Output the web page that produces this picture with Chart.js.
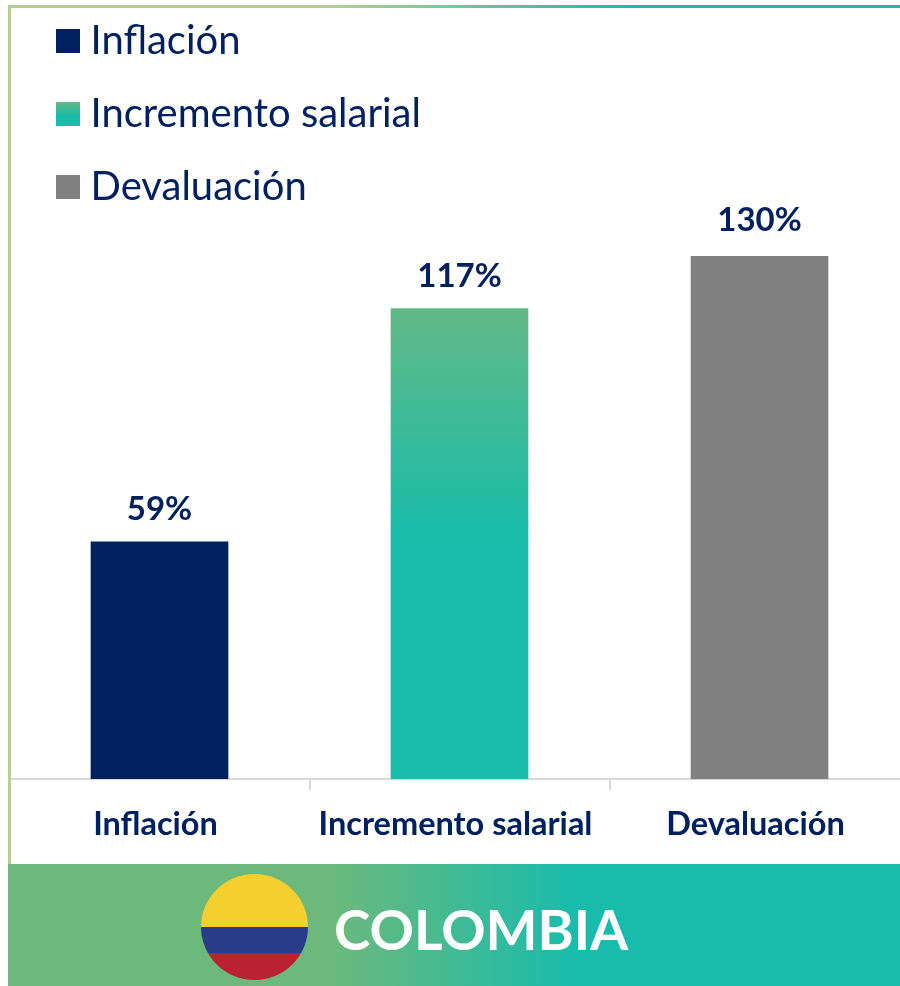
<!DOCTYPE html>
<html lang="es">
<head>
<meta charset="utf-8">
<title>Colombia</title>
<script src="https://cdn.jsdelivr.net/npm/chart.js@4"></script>
<style>
html,body{margin:0;padding:0;background:#fff;width:900px;height:986px;overflow:hidden}
#wrap{position:relative;width:900px;height:986px;overflow:hidden}
canvas{position:absolute;left:0;top:0}
#top{position:absolute;left:8px;top:5px;width:892px;height:3px;background:linear-gradient(90deg,#B8D08F 0,#B8D08F 35%,#17BCAD 70%,#17BCAD 100%)}
#left{position:absolute;left:8px;top:5px;width:3px;height:860px;background:#B8D08F}
#band{position:absolute;left:8px;top:864px;width:892px;height:122px;background:linear-gradient(90deg,#6DB97B 0,#6DB97B 36%,#17BCAD 64%,#17BCAD 100%)}
#flag{position:absolute;left:201px;top:874px;width:107px;height:106px;border-radius:50%;background:linear-gradient(180deg,#F5CF2D 0,#F5CF2D 50%,#2A3B8A 50%,#2A3B8A 75%,#BC2033 75%,#BC2033 100%)}
#name{position:absolute;left:334px;top:894px;font:bold 55px Lato,sans-serif;color:#fff;line-height:70px;white-space:nowrap}
</style>
</head>
<body>
<div id="wrap">
<canvas id="c" width="920" height="986"></canvas>
<div id="top"></div><div id="left"></div>
<div id="band"></div><div id="flag"></div><div id="name">COLOMBIA</div>
</div>
<script>
const categories = ["Inflación", "Incremento salarial", "Devaluación"];
const values = [59, 117, 130];
const navy = "#002060", teal = "#18BCAA", tealTop = "#62B987", grey = "#808080";

const canvas = document.getElementById("c");

function barColor(ctx) {
  const i = ctx.dataIndex;
  if (i === 0) return navy;
  if (i === 2) return grey;
  const y = ctx.chart.scales.y;
  if (!y || !ctx.chart.chartArea) return teal;
  const gr = ctx.chart.ctx.createLinearGradient(0, y.getPixelForValue(values[1]), 0, y.getPixelForValue(60));
  gr.addColorStop(0, tealTop); gr.addColorStop(1, teal);
  return gr;
}

function swatch(fill, isGradient) {
  const s = document.createElement("canvas");
  s.width = 24; s.height = 24;
  const c = s.getContext("2d");
  if (isGradient) {
    const gr = c.createLinearGradient(0, 0, 0, 24);
    gr.addColorStop(0, tealTop); gr.addColorStop(0.6, teal);
    c.fillStyle = gr;
  } else {
    c.fillStyle = fill;
  }
  c.fillRect(0, 0, 24, 24);
  return s;
}

const valueLabels = {
  id: "valueLabels",
  afterDatasetsDraw(chart) {
    const c = chart.ctx, m = chart.getDatasetMeta(0);
    c.save();
    c.font = "bold 33px Lato, sans-serif";
    c.fillStyle = navy; c.textAlign = "center"; c.textBaseline = "middle";
    m.data.forEach((el, i) => c.fillText(values[i] + "%", el.x, el.y - (i === 2 ? 36 : 32)));
    c.restore();
  }
};
const placeLegend = {
  id: "placeLegend",
  afterLayout(chart) {
    const l = chart.legend;
    l.left = 32.5; l.top = -12; l.right = l.left + l.width; l.bottom = l.top + l.height;
  }
};

const swatches = [swatch(navy), swatch(null, true), swatch(grey)];

new Chart(canvas, {
  type: "bar",
  data: { labels: categories, datasets: [{ data: values, backgroundColor: barColor, barThickness: 137, borderWidth: 0 }] },
  plugins: [valueLabels, placeLegend],
  options: {
    responsive: false, animation: false,
    devicePixelRatio: 1,
    layout: { padding: { left: 9.5, right: 10.5, top: 15, bottom: 0 } },
    plugins: {
      tooltip: { enabled: false },
      legend: {
        display: true, position: "chartArea", align: "start",
        labels: {
          usePointStyle: true, pointStyleWidth: 5, boxHeight: 24, padding: 33,
          font: { family: "Lato, sans-serif", size: 40 },
          color: navy,
          generateLabels() {
            return categories.map((t, i) => ({ text: t, fontColor: navy, pointStyle: swatches[i], fillStyle: "transparent", strokeStyle: "transparent", lineWidth: 0, hidden: false, index: i }));
          }
        }
      }
    },
    scales: {
      x: {
        offset: true,
        afterFit(s) { s.height = 207; },
        border: { color: "#D9D9D9", width: 2 },
        grid: {
          offset: true, drawOnChartArea: false, drawTicks: true, tickLength: 11, lineWidth: 2,
          color: "#D9D9D9",
          tickColor: (ctx) => (ctx.index === 0 ? "transparent" : "#D9D9D9")
        },
        ticks: { color: navy, padding: 15, labelOffset: -4, maxRotation: 0, autoSkip: false, font: { family: "Lato, sans-serif", weight: "bold", size: 32.5 } }
      },
      y: { display: false, min: 0, max: 190 }
    }
  }
});
</script>
</body>
</html>
